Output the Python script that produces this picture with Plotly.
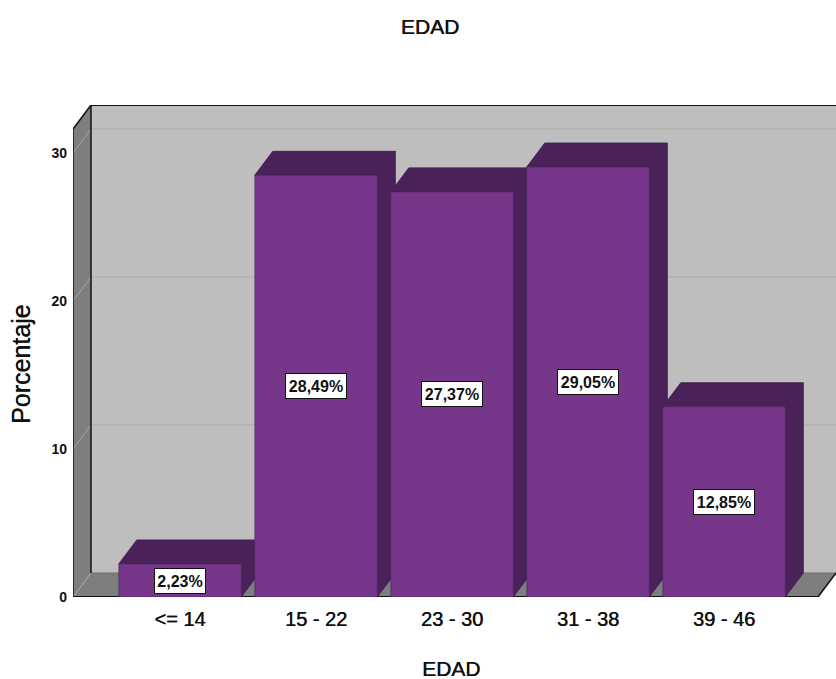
import plotly.graph_objects as go

categories = ["<= 14", "15 - 22", "23 - 30", "31 - 38", "39 - 46"]
percentages = [2.23, 28.49, 27.37, 29.05, 12.85]
value_labels = ["2,23%", "28,49%", "27,37%", "29,05%", "12,85%"]
y_ticks = [0, 10, 20, 30]

FRONT = "#76368A"
DARK = "#4A2259"
EDGE = "#45205A"
WALL = "#BEBEBE"
FLOOR = "#7E7E7E"
GRID = "#B0B0B0"
SIDE_GRID = "#A6A6A6"
INK = "#111111"
SANS = "Liberation Sans"
HEAVY = "0.4px 0 0 #111111"  # thickens regular glyphs slightly

# Pixel scale of the plot box: one category step and one percentage point
PLOT_W, PLOT_H = 763, 492
X_MIN, X_MAX = (73 - 180) / 136, (836 - 180) / 136
Y_MAX = PLOT_H / 14.8

# Oblique projection offsets for the pseudo-3D depth, in axis units
DX = 18 / 136
DY = 24 / 14.8
BAR_W = 122.5 / 136
FLOOR_RIGHT = (818 - 180) / 136
WALL_TOP = Y_MAX
FRONT_TOP = Y_MAX - DY

fig = go.Figure()


def poly(x, y, fill):
    return dict(type="path", xref="x", yref="y", layer="below", fillcolor=fill,
                line=dict(width=0),
                path="M" + " L".join(f"{a},{b}" for a, b in zip(x, y)) + " Z")


def line(x0, y0, x1, y1, color, width):
    return dict(type="line", xref="x", yref="y", layer="below",
                x0=x0, y0=y0, x1=x1, y1=y1, line=dict(color=color, width=width))


left = X_MIN
shapes = [
    poly([left + DX, X_MAX, X_MAX, left + DX], [DY, DY, WALL_TOP, WALL_TOP], WALL),
    poly([left, left + DX, left + DX, left], [0, DY, WALL_TOP, FRONT_TOP], FLOOR),
    poly([left, FLOOR_RIGHT, FLOOR_RIGHT + DX, left + DX], [0, 0, DY, DY], FLOOR),
]
for t in y_ticks[1:]:
    shapes.append(line(left + DX, t + DY, X_MAX, t + DY, GRID, 1.5))
    shapes.append(line(left, t, left + DX, t + DY, SIDE_GRID, 1))
shapes += [
    line(left, 0, left + DX, DY, SIDE_GRID, 1),
    line(left + DX, DY, X_MAX, DY, "#6E6E6E", 1),
    line(left + DX, DY, left + DX, WALL_TOP, INK, 1.5),
    line(left + DX, WALL_TOP, X_MAX, WALL_TOP, INK, 2),
    line(left, FRONT_TOP, left + DX, WALL_TOP, INK, 1.5),
    line(left, 0, left, FRONT_TOP, INK, 1.5),
    line(left, 0, FLOOR_RIGHT, 0, INK, 2),
    line(FLOOR_RIGHT, 0, FLOOR_RIGHT + DX, DY, INK, 1.5),
]

# Top and right faces, painted left to right so later bars hide earlier sides
for i, v in enumerate(percentages):
    xl, xr = i - BAR_W / 2, i + BAR_W / 2
    fig.add_trace(go.Scatter(
        x=[xl, xr, xr + DX, xl + DX, xl], y=[v, v, v + DY, v + DY, v],
        mode="lines", fill="toself", fillcolor=DARK,
        line=dict(color=EDGE, width=1), hoverinfo="skip", showlegend=False))
    fig.add_trace(go.Scatter(
        x=[xr, xr, xr + DX, xr + DX, xr], y=[0, v, v + DY, DY, 0],
        mode="lines", fill="toself", fillcolor=DARK,
        line=dict(color=EDGE, width=1), hoverinfo="skip", showlegend=False))

# Front faces live on an overlaid axis pair so they sit above the depth faces
fig.add_trace(go.Bar(
    x=list(range(len(categories))), y=percentages, width=BAR_W,
    marker=dict(color=FRONT, line=dict(color=EDGE, width=0.5)),
    xaxis="x2", yaxis="y2", showlegend=False))

annotations = [
    dict(x=i, y=v / 2, text=label, showarrow=False, xref="x", yref="y",
         width=10 * len(label), height=24, bgcolor="white", bordercolor=INK,
         borderwidth=1, borderpad=0,
         font=dict(family=SANS, size=16, color=INK, weight="bold"))
    for i, (v, label) in enumerate(zip(percentages, value_labels))
]
annotations += [
    dict(text="EDAD", xref="paper", yref="paper", showarrow=False,
         xanchor="center", yanchor="middle",
         x=(451 - 73) / PLOT_W, y=(597 - 668) / PLOT_H,
         font=dict(family=SANS, size=21, color=INK, shadow=HEAVY)),
    dict(text="Porcentaje", xref="paper", yref="paper", showarrow=False, textangle=-90,
         xanchor="center", yanchor="middle",
         x=(21 - 73) / PLOT_W, y=(597 - 364) / PLOT_H,
         font=dict(family=SANS, size=25, color=INK, shadow=HEAVY)),
]

x_range = [X_MIN, X_MAX]
y_range = [0, Y_MAX]
fig.update_layout(
    width=836, height=679,
    margin=dict(l=73, r=0, t=105, b=82),
    paper_bgcolor="white", plot_bgcolor="white",
    font=dict(family=SANS, color=INK),
    title=dict(text="EDAD", x=430 / 836, y=1 - 27 / 679, xanchor="center", yanchor="middle",
               font=dict(family=SANS, size=21, color=INK, shadow=HEAVY)),
    xaxis=dict(range=x_range, tickmode="array", tickvals=list(range(len(categories))),
               ticktext=categories, showgrid=False, zeroline=False, showline=False,
               ticks="", ticklabelstandoff=8,
               tickfont=dict(family=SANS, size=20, color=INK, shadow=HEAVY)),
    yaxis=dict(range=y_range, tickmode="array", tickvals=y_ticks, showgrid=False,
               zeroline=False, showline=False, ticks="", ticklabelstandoff=5,
               tickfont=dict(family=SANS, size=14, color=INK, weight="bold")),
    xaxis2=dict(range=x_range, overlaying="x", visible=False),
    yaxis2=dict(range=y_range, overlaying="y", visible=False),
    shapes=shapes,
    annotations=annotations,
)

fig.write_html("out.html")
